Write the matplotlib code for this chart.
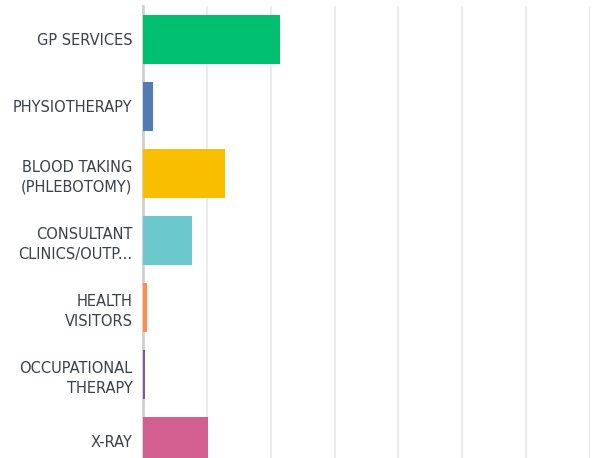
import matplotlib.pyplot as plt

categories = ['GP SERVICES', 'PHYSIOTHERAPY', 'BLOOD TAKING\n(PHLEBOTOMY)',
              'CONSULTANT\nCLINICS/OUTP...', 'HEALTH\nVISITORS',
              'OCCUPATIONAL\nTHERAPY', 'X-RAY']
values = [21.4, 1.6, 12.8, 7.7, 0.6, 0.3, 10.2]
colors = ['#00BF6F', '#507CB6', '#F9BE00', '#6BC8CD', '#FF8B4F', '#7D5A96', '#D25F90']

plt.rcParams['font.family'] = ['DejaVu Sans']

fig = plt.figure(figsize=(5.98, 4.58), dpi=100)
ax = fig.add_axes([143 / 598, 0, (590 - 143) / 598, (458 - 6) / 458])

pos = list(range(len(categories)))
ax.barh(pos, values, height=0.73, color=colors, zorder=3)

ax.set_xlim(0, 70)
ax.set_ylim(6.25, -0.5)
ax.set_xticks(range(0, 71, 10))
ax.set_xticklabels([])
ax.tick_params(axis='x', length=0)
ax.grid(axis='x', color='#ebebeb', linewidth=1.5, zorder=0)
ax.set_axisbelow(True)

ax.set_yticks(pos)
ax.set_yticklabels(categories, fontsize=10.5, color='#3a4149', linespacing=1.42)
ax.tick_params(axis='y', length=0, pad=7.5)

for s in ['top', 'right', 'bottom']:
    ax.spines[s].set_visible(False)
ax.spines['left'].set_color('#cfcfcf')
ax.spines['left'].set_linewidth(2)
ax.spines['left'].set_zorder(2)

fig.savefig('out.png', dpi=100)
